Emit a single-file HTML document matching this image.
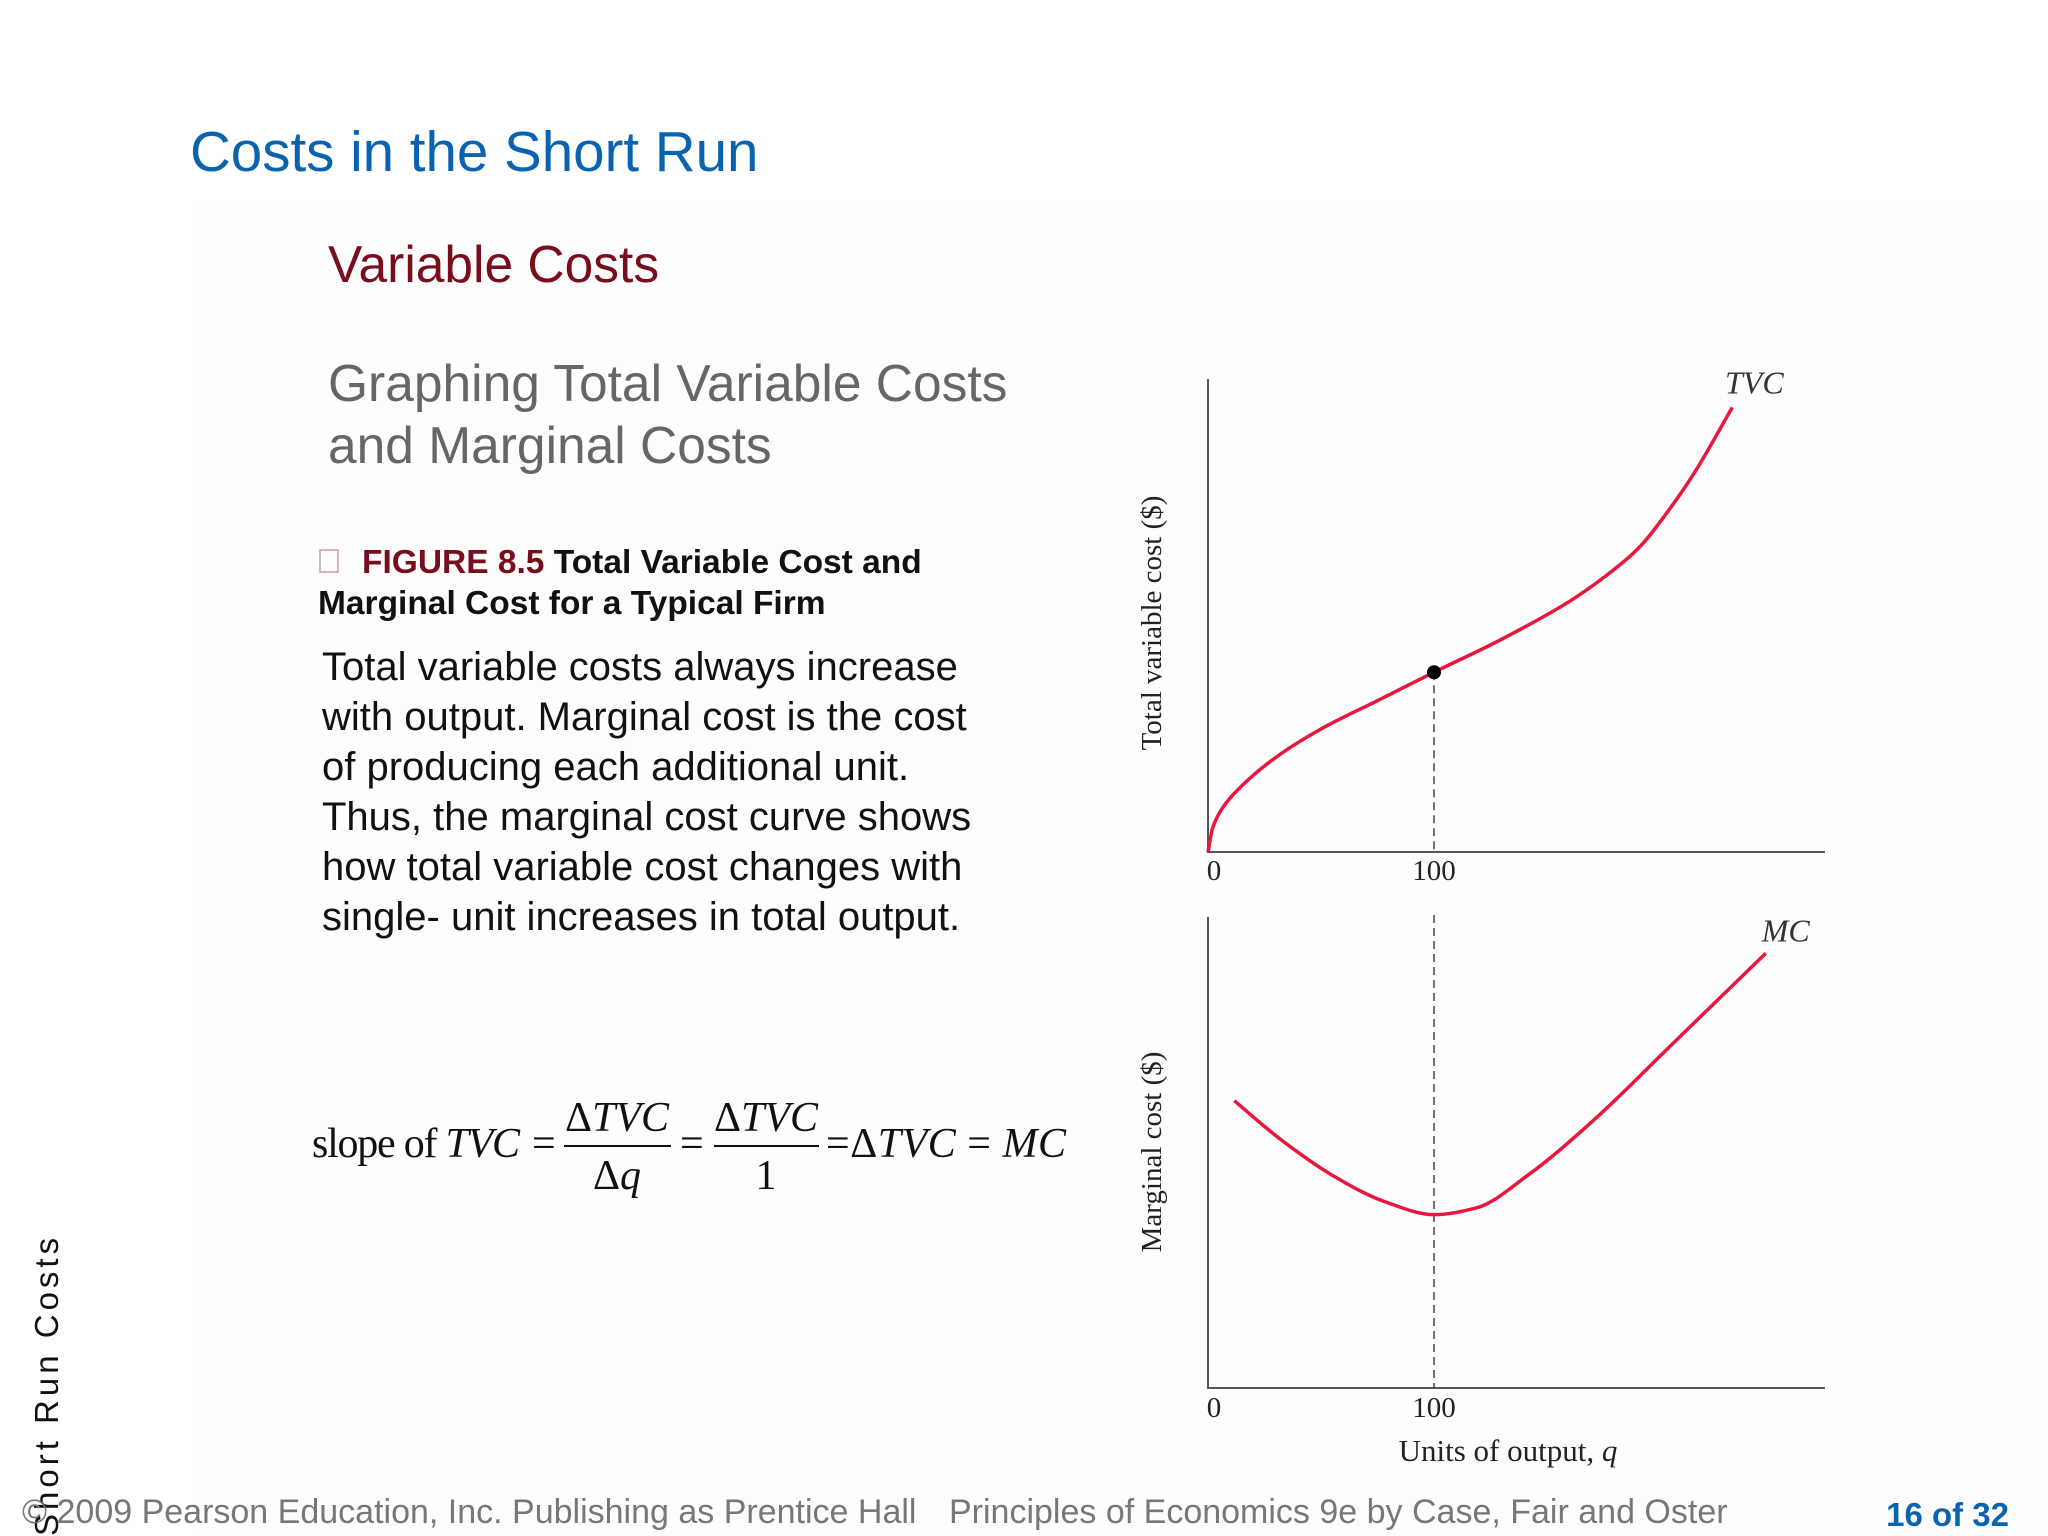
<!DOCTYPE html>
<html><head><meta charset="utf-8"><style>
html,body{margin:0;padding:0;background:#fff;}
svg{display:block;}
.sans{font-family:"Liberation Sans",sans-serif;}
.serif{font-family:"Liberation Serif",serif;}
</style></head><body>
<svg id="slide" width="2048" height="1536" viewBox="0 0 2048 1536" xmlns="http://www.w3.org/2000/svg">
<rect x="0" y="0" width="2048" height="1536" fill="#fff"/>
<rect x="194" y="202" width="1854" height="1334" fill="#fdfdfe"/>
<text class="sans" x="190" y="171" font-size="56.5" fill="#0a63b0">Costs in the Short Run</text>
<text class="sans" x="328" y="282" font-size="51.5" fill="#7a0d1c">Variable Costs</text>
<text class="sans" x="328" y="401" font-size="51.5" fill="#666">Graphing Total Variable Costs</text>
<text class="sans" x="328" y="463" font-size="51.5" fill="#666">and Marginal Costs</text>
<rect x="320" y="550" width="18" height="22" fill="none" stroke="#c9a0a6" stroke-width="1.5"/>
<text class="sans" font-size="33.5" font-weight="bold"><tspan x="362" y="573" fill="#7a0d1c">FIGURE 8.5</tspan><tspan fill="#111">  Total Variable Cost and</tspan><tspan x="318" y="614" fill="#111">Marginal Cost for a Typical Firm</tspan></text>
<g class="sans" font-size="40" fill="#111">
<text x="322" y="680">Total variable costs always increase</text>
<text x="322" y="730">with output. Marginal cost is the cost</text>
<text x="322" y="780">of producing each additional unit.</text>
<text x="322" y="830">Thus, the marginal cost curve shows</text>
<text x="322" y="880">how total variable cost changes with</text>
<text x="322" y="930">single- unit increases in total output.</text>
</g>
<g class="serif" font-size="42" fill="#111">
<text x="312" y="1157" textLength="208" lengthAdjust="spacing">slope of <tspan font-style="italic">TVC</tspan></text>
<text x="532" y="1157">=</text>
<text x="617" y="1131" text-anchor="middle">Δ<tspan font-style="italic">TVC</tspan></text>
<line x1="564" y1="1146" x2="671" y2="1146" stroke="#111" stroke-width="2"/>
<text x="617" y="1189" text-anchor="middle">Δ<tspan font-style="italic">q</tspan></text>
<text x="680" y="1157">=</text>
<text x="766" y="1131" text-anchor="middle">Δ<tspan font-style="italic">TVC</tspan></text>
<line x1="714" y1="1146" x2="819" y2="1146" stroke="#111" stroke-width="2"/>
<text x="766" y="1189" text-anchor="middle">1</text>
<text x="826" y="1157" textLength="240" lengthAdjust="spacing">=Δ<tspan font-style="italic">TVC</tspan> = <tspan font-style="italic">MC</tspan></text>
</g>
<text class="sans" font-size="33" fill="#111" letter-spacing="4" transform="translate(58,1536) rotate(-90)">  Short Run Costs</text>
<text class="sans" x="22" y="1523" font-size="34" fill="#777">© 2009 Pearson Education, Inc. Publishing as Prentice Hall</text>
<text class="sans" x="949" y="1523" font-size="34" fill="#777">Principles of Economics 9e by Case, Fair and Oster</text>
<text class="sans" x="2009" y="1526" font-size="33" font-weight="bold" fill="#0a63b0" text-anchor="end">16 of 32</text>
<g id="charts"></g>
</svg>
<script>
// TVC chart data (q units, cost index 0-100)
const tvcQ = [0, 2, 6, 15, 30, 50, 75, 100, 130, 160, 175, 190, 205, 215, 232];
const tvcV = [0, 5, 9, 14, 20, 26, 32, 38, 45, 53, 58, 64, 73, 80, 94];
// MC chart data
const mcQ = [11.6, 31.8, 54.9, 78, 100, 118.5, 141.6, 170.5, 205.2, 246.8];
const mcV = [61, 52.9, 45.2, 39.6, 36.8, 38.2, 45.2, 56.8, 72.9, 92.3];
const xTicks = [0, 100];
const xTickLabels = ["0", "100"];
const markQ = 100;

const NS = "http://www.w3.org/2000/svg";
const g = document.getElementById('charts');
function mk(tag, attrs, parent) {
  const e = document.createElementNS(NS, tag);
  for (const k in attrs) e.setAttribute(k, attrs[k]);
  (parent || g).appendChild(e);
  return e;
}
const x0 = 1208, xPer = 2.26;
const sx = q => x0 + q * xPer;
function panel(top, bottom) { return v => bottom - v * (bottom - top) / 100; }
const sy1 = panel(379, 852), sy2 = panel(917, 1388);

// monotone cubic (Fritsch-Carlson) in pixel space
function smooth(xs, ys) {
  const n = xs.length, d = [], m = [];
  for (let i = 0; i < n - 1; i++) d.push((ys[i + 1] - ys[i]) / (xs[i + 1] - xs[i]));
  m[0] = d[0]; m[n - 1] = d[n - 2];
  for (let i = 1; i < n - 1; i++) {
    if (d[i - 1] * d[i] <= 0) m[i] = 0;
    else {
      const h0 = xs[i] - xs[i - 1], h1 = xs[i + 1] - xs[i];
      const w1 = 2 * h1 + h0, w2 = h1 + 2 * h0;
      m[i] = (w1 + w2) / (w1 / d[i - 1] + w2 / d[i]);
    }
  }
  let p = 'M' + xs[0] + ',' + ys[0];
  for (let i = 0; i < n - 1; i++) {
    const h = (xs[i + 1] - xs[i]) / 3;
    p += ' C' + (xs[i] + h) + ',' + (ys[i] + m[i] * h) + ' ' + (xs[i + 1] - h) + ',' + (ys[i + 1] - m[i + 1] * h) + ' ' + xs[i + 1] + ',' + ys[i + 1];
  }
  return p;
}

function axes(top, bottom, name, title, tickY, titleCy) {
  const ax = mk('path', {d: 'M1208,' + top + ' V' + bottom + ' H1825', fill: 'none', stroke: '#555', 'stroke-width': 2});
  
  
  xTicks.forEach((t, i) => {
    const tx = mk('text', {x: sx(t) + (t === 0 ? 6 : 0), y: tickY, 'text-anchor': 'middle', 'font-family': 'Liberation Serif, serif', 'font-size': 29, fill: '#222'});
    tx.textContent = xTickLabels[i];
    
    
  });
  const yt = mk('text', {transform: 'translate(1161,' + titleCy + ') rotate(-90)', 'text-anchor': 'middle', 'font-family': 'Liberation Serif, serif', 'font-size': 29, fill: '#222'});
  yt.textContent = title;
  
  
}
axes(379, 852, 'tvc', 'Total variable cost ($)', 880, 623);
axes(917, 1388, 'mc', 'Marginal cost ($)', 1417, 1152);

const d1 = mk('line', {x1: sx(markQ), x2: sx(markQ), y1: sy1(tvcV[tvcQ.indexOf(markQ)]), y2: 852, stroke: '#444', 'stroke-width': 1.5, 'stroke-dasharray': '8,5'});


const d2 = mk('line', {x1: sx(markQ), x2: sx(markQ), y1: 915, y2: 1388, stroke: '#444', 'stroke-width': 1.5, 'stroke-dasharray': '8,5'});



const tvc = mk('path', {d: smooth(tvcQ.map(sx), tvcV.map(sy1)), fill: 'none', stroke: '#e8173e', 'stroke-width': 3.5});


const mc = mk('path', {d: smooth(mcQ.map(sx), mcV.map(sy2)), fill: 'none', stroke: '#e8173e', 'stroke-width': 3.5});



const dot = mk('circle', {cx: sx(markQ), cy: sy1(tvcV[tvcQ.indexOf(markQ)]), r: 7, fill: '#000'});



const l1 = mk('text', {x: sx(tvcQ[tvcQ.length - 1]) + 22, y: sy1(tvcV[tvcV.length - 1]) - 14, 'text-anchor': 'middle', 'font-family': 'Liberation Serif, serif', 'font-style': 'italic', 'font-size': 32, fill: '#333'});
l1.textContent = 'TVC';


const l2 = mk('text', {x: sx(mcQ[mcQ.length - 1]) + 20, y: sy2(mcV[mcV.length - 1]) - 12, 'text-anchor': 'middle', 'font-family': 'Liberation Serif, serif', 'font-style': 'italic', 'font-size': 32, fill: '#333'});
l2.textContent = 'MC';



const xt = mk('text', {x: 1508, y: 1461, 'text-anchor': 'middle', 'font-family': 'Liberation Serif, serif', 'font-size': 31, fill: '#222'});
xt.innerHTML = 'Units of output, <tspan font-style="italic">q</tspan>';


</script>
</body></html>
